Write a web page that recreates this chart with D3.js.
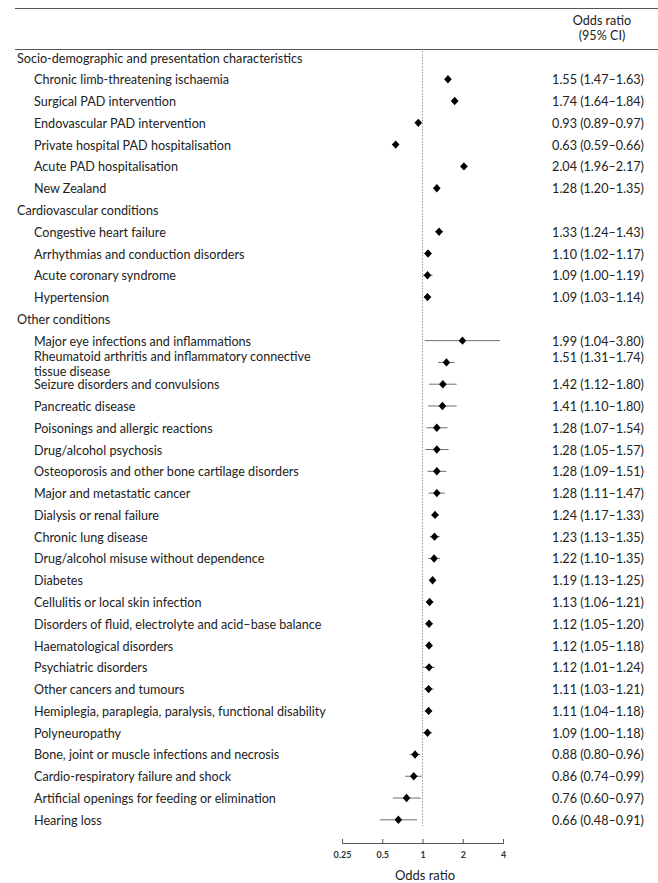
<!DOCTYPE html>
<html>
<head>
  <meta charset="utf-8">
  <title>Odds ratios forest plot</title>
  <script src="https://d3js.org/d3.v7.min.js"></script>
  <style>
    body { margin: 0; background: #fff; }
    svg { font-family: Lato, "Open Sans", sans-serif; }
    .label { font-size: 12.6px; fill: #222; }
    .value { font-size: 12.6px; fill: #222; }
    .rule { stroke: #555; stroke-width: 1.2; }
    .ref { stroke: #999; stroke-dasharray: 1.5 1.5; }
    .ci { stroke: #707070; stroke-width: 1; }
    .axis path, .axis line { stroke: #555; }
    .axis text { font-size: 9px; font-weight: bold; fill: #333; font-family: Lato, sans-serif; }
  </style>
</head>
<body>
<svg width="658" height="883"></svg>
<script>
const groups = [
  "Socio-demographic and presentation characteristics",
  "Cardiovascular conditions",
  "Other conditions"
];
const groupSizes = [6, 4, 23];

const labels = [
  "Chronic limb-threatening ischaemia",
  "Surgical PAD intervention",
  "Endovascular PAD intervention",
  "Private hospital PAD hospitalisation",
  "Acute PAD hospitalisation",
  "New Zealand",
  "Congestive heart failure",
  "Arrhythmias and conduction disorders",
  "Acute coronary syndrome",
  "Hypertension",
  "Major eye infections and inflammations",
  "Rheumatoid arthritis and inflammatory connective|tissue disease",
  "Seizure disorders and convulsions",
  "Pancreatic disease",
  "Poisonings and allergic reactions",
  "Drug/alcohol psychosis",
  "Osteoporosis and other bone cartilage disorders",
  "Major and metastatic cancer",
  "Dialysis or renal failure",
  "Chronic lung disease",
  "Drug/alcohol misuse without dependence",
  "Diabetes",
  "Cellulitis or local skin infection",
  "Disorders of fluid, electrolyte and acid\u2013base balance",
  "Haematological disorders",
  "Psychiatric disorders",
  "Other cancers and tumours",
  "Hemiplegia, paraplegia, paralysis, functional disability",
  "Polyneuropathy",
  "Bone, joint or muscle infections and necrosis",
  "Cardio-respiratory failure and shock",
  "Artificial openings for feeding or elimination",
  "Hearing loss"
];

const oddsRatio = [1.55, 1.74, 0.93, 0.63, 2.04, 1.28,
  1.33, 1.10, 1.09, 1.09,
  1.99, 1.51, 1.42, 1.41, 1.28, 1.28, 1.28, 1.28, 1.24, 1.23, 1.22, 1.19,
  1.13, 1.12, 1.12, 1.12, 1.11, 1.11, 1.09, 0.88, 0.86, 0.76, 0.66];
const ciLow = [1.47, 1.64, 0.89, 0.59, 1.96, 1.20,
  1.24, 1.02, 1.00, 1.03,
  1.04, 1.31, 1.12, 1.10, 1.07, 1.05, 1.09, 1.11, 1.17, 1.13, 1.10, 1.13,
  1.06, 1.05, 1.05, 1.01, 1.03, 1.04, 1.00, 0.80, 0.74, 0.60, 0.48];
const ciHigh = [1.63, 1.84, 0.97, 0.66, 2.17, 1.35,
  1.43, 1.17, 1.19, 1.14,
  3.80, 1.74, 1.80, 1.80, 1.54, 1.57, 1.51, 1.47, 1.33, 1.35, 1.35, 1.25,
  1.21, 1.20, 1.18, 1.24, 1.21, 1.18, 1.18, 0.96, 0.99, 0.97, 0.91];

const tickValues = [0.25, 0.5, 1, 2, 4];

// build the row list: group header followed by its items
const rows = [];
let k = 0;
groups.forEach((g, gi) => {
  rows.push({ type: "group", label: g });
  for (let j = 0; j < groupSizes[gi]; j++, k++) {
    rows.push({ type: "item", label: labels[k], or: oddsRatio[k], lo: ciLow[k], hi: ciHigh[k] });
  }
});

const svg = d3.select("svg");
const x = d3.scaleLog().base(2).domain([0.25, 4]).range([342, 503]);
const y = d3.scalePoint().domain(d3.range(rows.length)).range([57.5, 819.8]);
const fmt = d3.format(".2f");

// rules
svg.append("line").attr("class", "rule").attr("x1", 15).attr("x2", 658).attr("y1", 8.5).attr("y2", 8.5);
svg.append("line").attr("class", "rule").attr("x1", 15).attr("x2", 658).attr("y1", 49.5).attr("y2", 49.5);

// header
svg.append("text").attr("class", "value").attr("x", 602).attr("y", 20.5)
  .attr("text-anchor", "middle").attr("dominant-baseline", "central").text("Odds ratio");
svg.append("text").attr("class", "value").attr("x", 602).attr("y", 35)
  .attr("text-anchor", "middle").attr("dominant-baseline", "central").text("(95% CI)");

// reference line at 1
svg.append("line").attr("class", "ref")
  .attr("x1", x(1)).attr("x2", x(1)).attr("y1", 51).attr("y2", 826);

const row = svg.append("g").selectAll("g")
  .data(rows)
  .enter().append("g")
  .attr("transform", (d, i) => `translate(0,${y(i)})`);

// labels
row.each(function (d) {
  const g = d3.select(this);
  const parts = d.label.split("|");
  const tx = g.append("text").attr("class", "label")
    .attr("x", d.type === "group" ? 17 : 34)
    .attr("dominant-baseline", "central");
  if (parts.length === 1) {
    tx.attr("y", 0.5).text(parts[0]);
  } else {
    parts.forEach((p, pi) => {
      tx.append("tspan").attr("x", 34).attr("y", -6 + pi * 14.5).text(p);
    });
  }
});

const items = row.filter(d => d.type === "item");

items.append("line").attr("class", "ci")
  .attr("x1", d => x(d.lo)).attr("x2", d => x(d.hi));

items.append("path")
  .attr("d", "M0,-4.2L3.8,0L0,4.2L-3.8,0Z")
  .attr("transform", d => `translate(${x(d.or)},0)`)
  .attr("fill", "#000");

items.append("text").attr("class", "value")
  .attr("x", 644)
  .attr("y", d => d.label.includes("|") ? -5 : 0.5)
  .attr("text-anchor", "end")
  .attr("dominant-baseline", "central")
  .text(d => `${fmt(d.or)} (${fmt(d.lo)}\u2013${fmt(d.hi)})`);

// axis
svg.append("g").attr("class", "axis")
  .attr("transform", "translate(0,843)")
  .call(d3.axisBottom(x).tickValues(tickValues).tickFormat(d => d)
    .tickSizeInner(-4).tickSizeOuter(-4).tickPadding(9));

svg.append("text").attr("class", "value").attr("x", 425).attr("y", 875)
  .attr("text-anchor", "middle").attr("dominant-baseline", "central")
  .style("font-size", "13px").text("Odds ratio");
</script>
</body>
</html>
